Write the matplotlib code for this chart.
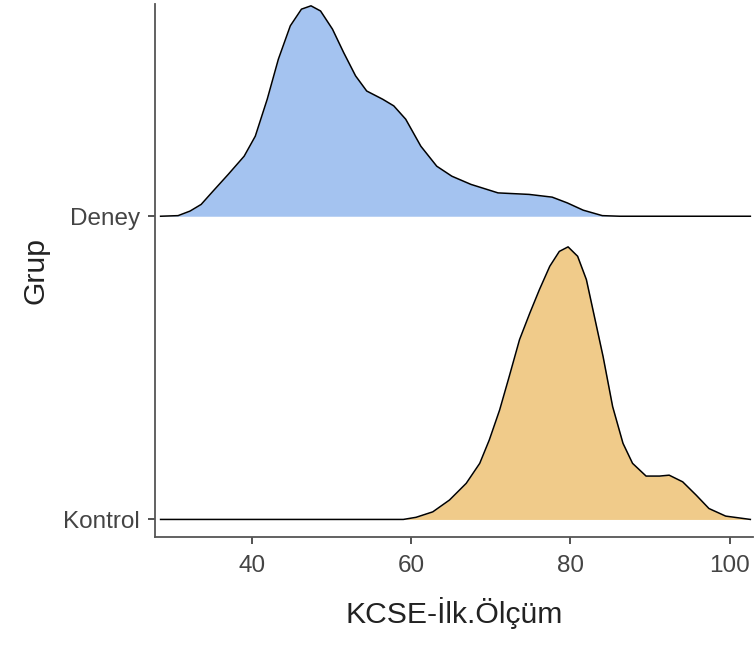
import matplotlib.pyplot as plt
import numpy as np

plt.rcParams['font.family'] = ['Liberation Sans', 'DejaVu Sans']

# ridgeline densities (x value, scaled height)
groups = ['Kontrol', 'Deney']
colors = ['#F0CB8A', '#A4C3F0']

deney_x = [28.5, 30.7, 32.2, 33.6, 35.1, 37.0, 39.0, 40.4, 41.9, 43.3, 44.8, 46.2,
           47.4, 48.6, 50.1, 51.5, 53.0, 54.4, 56.4, 57.8, 59.3, 61.2, 63.2, 65.1,
           67.5, 70.9, 74.8, 77.7, 79.6, 81.6, 84.0, 86.2, 102.6]
deney_h = [0.0, 0.002, 0.017, 0.039, 0.083, 0.138, 0.198, 0.264, 0.386, 0.518, 0.628, 0.683,
           0.694, 0.677, 0.617, 0.540, 0.463, 0.413, 0.386, 0.364, 0.320, 0.231, 0.165, 0.132,
           0.105, 0.077, 0.072, 0.063, 0.044, 0.020, 0.002, 0.0, 0.0]

kontrol_x = [28.5, 59.0, 60.6, 62.7, 64.8, 66.9, 68.6, 69.8, 71.1, 72.3, 73.6, 74.9,
             76.1, 77.4, 78.6, 79.7, 80.9, 82.0, 83.0, 84.1, 85.3, 86.6, 87.8, 89.5,
             91.2, 92.4, 94.1, 95.8, 97.4, 99.5, 102.6]
kontrol_h = [0.0, 0.0, 0.007, 0.025, 0.064, 0.119, 0.185, 0.262, 0.361, 0.471, 0.593, 0.681,
             0.758, 0.835, 0.884, 0.899, 0.868, 0.791, 0.670, 0.537, 0.372, 0.251, 0.185, 0.143,
             0.143, 0.146, 0.124, 0.080, 0.036, 0.011, 0.0]

xticks = [40, 60, 80, 100]

fig = plt.figure(figsize=(7.55, 6.46), dpi=100)
ax = fig.add_axes([0.2053, 0.1687, 0.7917, 0.8251])

series = [(kontrol_x, kontrol_h), (deney_x, deney_h)]
for i, (xs, hs) in enumerate(series):
    base = i + 1
    xs = np.array(xs)
    ys = base + np.array(hs)
    ax.fill_between(xs, base, ys, where=np.array(hs) > 0, interpolate=True,
                    color=colors[i], linewidth=0, zorder=2 + 2 * (1 - i))
    ax.plot(xs, ys, color='black', lw=1.1, zorder=3 + 2 * (1 - i))

ax.set_xlim(27.8, 102.9)
ax.set_ylim(0.942, 2.70)
ax.set_xticks(xticks)
ax.set_yticks([1, 2])
ax.set_yticklabels(groups)

for s in ['top', 'right']:
    ax.spines[s].set_visible(False)
for s in ['left', 'bottom']:
    ax.spines[s].set_color('#555555')
    ax.spines[s].set_linewidth(1.3)

ax.tick_params(axis='both', colors='#444444', labelsize=17.5, length=5, width=1.3)
ax.tick_params(axis='x', pad=8)
ax.tick_params(axis='y', pad=6)

ax.set_xlabel('KCSE-İlk.Ölçüm', fontsize=21.7, color='#222222', labelpad=14)
ax.set_ylabel('Grup', fontsize=21.7, color='#222222', labelpad=10)

fig.savefig('out.png', dpi=100)
